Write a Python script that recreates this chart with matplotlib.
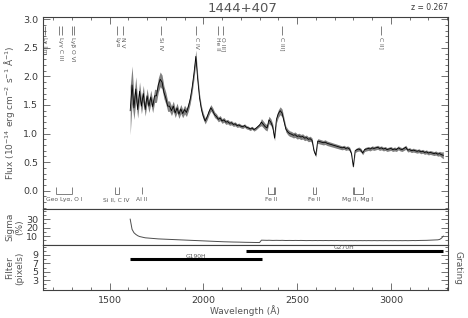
import numpy as np
import matplotlib
matplotlib.use('Agg')
import matplotlib.pyplot as plt
from matplotlib.ticker import MultipleLocator

plt.rcParams['font.family'] = ['Liberation Sans Narrow', 'DejaVu Sans']
plt.rcParams['text.color'] = '#3a3a3a'
plt.rcParams['xtick.color'] = '#3a3a3a'
plt.rcParams['ytick.color'] = '#3a3a3a'

# datos (paso de 10 A)
wave = np.arange(1610, 3290, 10)
flux = [
    1.40, 1.85, 1.45, 1.78, 1.42, 1.74, 1.48, 1.70, 1.42, 1.66,
    1.48, 1.64, 1.47, 1.66, 1.66, 1.85, 1.95, 1.90, 1.72, 1.62,
    1.48, 1.48, 1.40, 1.48, 1.36, 1.45, 1.34, 1.43, 1.35, 1.42,
    1.37, 1.47, 1.60, 1.80, 2.05, 2.35, 1.95, 1.62, 1.42, 1.30,
    1.22, 1.29, 1.38, 1.45, 1.40, 1.33, 1.30, 1.25, 1.27, 1.22,
    1.24, 1.20, 1.21, 1.18, 1.19, 1.16, 1.17, 1.14, 1.15, 1.13,
    1.12, 1.14, 1.11, 1.10, 1.08, 1.10, 1.07, 1.09, 1.12, 1.15,
    1.20, 1.16, 1.12, 1.10, 1.24, 1.20, 1.12, 0.92, 1.25, 1.35,
    1.40, 1.36, 1.22, 1.08, 1.03, 1.00, 0.99, 0.97, 0.98, 0.95,
    0.96, 0.94, 0.95, 0.92, 0.93, 0.90, 0.91, 0.88, 0.70, 0.62,
    0.87, 0.86, 0.85, 0.84, 0.85, 0.83, 0.82, 0.81, 0.80, 0.79,
    0.78, 0.77, 0.76, 0.75, 0.76, 0.74, 0.75, 0.73, 0.65, 0.42,
    0.70, 0.72, 0.73, 0.71, 0.66, 0.72, 0.73, 0.74, 0.73, 0.75,
    0.74, 0.75, 0.76, 0.74, 0.75, 0.73, 0.74, 0.72, 0.73, 0.74,
    0.72, 0.73, 0.72, 0.75, 0.73, 0.72, 0.74, 0.76, 0.71, 0.72,
    0.70, 0.71, 0.70, 0.69, 0.70, 0.68, 0.69, 0.67, 0.68, 0.66,
    0.67, 0.66, 0.65, 0.66, 0.64, 0.65, 0.63, 0.62,
]
sigma = [
    30, 18, 14, 12, 10.5, 9.5, 9, 8.5, 8, 7.8,
    7.5, 7.3, 7.1, 7, 6.8, 6.7, 6.6, 6.5, 6.4, 6.3,
    6.2, 6.1, 6, 5.9, 5.8, 5.7, 5.6, 5.5, 5.4, 5.3,
    5.2, 5.1, 5, 4.9, 4.8, 4.7, 4.6, 4.5, 4.4, 4.3,
    4.2, 4.1, 4, 3.9, 3.8, 3.7, 3.6, 3.5, 3.5, 3.4,
    3.3, 3.3, 3.2, 3.1, 3.1, 3, 3, 2.9, 2.9, 2.8,
    2.8, 2.7, 2.7, 2.6, 2.6, 2.5, 2.5, 2.5, 2.4, 2.4,
    5.2, 5.1, 5, 5, 5.1, 5, 4.9, 5, 5, 4.9,
    4.9, 5, 4.9, 4.8, 4.9, 4.9, 4.8, 4.8, 4.9, 4.8,
    4.8, 4.9, 4.8, 4.8, 4.7, 4.8, 4.8, 4.7, 4.8, 4.8,
    4.7, 4.8, 4.7, 4.7, 4.8, 4.7, 4.7, 4.8, 4.7, 4.7,
    4.8, 4.7, 4.7, 4.6, 4.7, 4.7, 4.6, 4.7, 4.7, 4.6,
    4.7, 4.6, 4.7, 4.7, 4.6, 4.7, 4.6, 4.7, 4.6, 4.6,
    4.7, 4.6, 4.6, 4.7, 4.6, 4.6, 4.7, 4.6, 4.6, 4.7,
    4.6, 4.7, 4.6, 4.6, 4.7, 4.6, 4.7, 4.7, 4.6, 4.7,
    4.7, 4.8, 4.7, 4.8, 4.8, 4.9, 4.9, 5, 5, 5.1,
    5.1, 5.2, 5.3, 5.4, 5.6, 6, 7.5, 10,
]

# lineas de emision (z = 0.267)
em_pos = [[1155], [1232, 1244], [1300, 1310], [1540], [1571], [1774],
          [1962], [2078], [2107], [2418], [2947]]
em_labels = ['Ly lim', 'Lyγ C III', 'Lyβ O VI', 'Lyα', 'N V', 'Si IV',
             'C IV', 'He II', 'O III]', 'C III]', 'C II]']

# absorciones galacticas
abs_pos = [[1216, 1302], [1526.7, 1548.2], [1670.8],
           [2344.2, 2374.5, 2382.8], [2586.7, 2600.2], [2796.4, 2803.5, 2852.1]]
abs_labels = ['Geo Lyα, O I', 'Si II, C IV', 'Al II', 'Fe II', 'Fe II', 'Mg II, Mg I']

# redes
grating_names = ['G190H', 'G270H']
grating_start = [1610, 2225]
grating_end = [2312, 3280]
grating_filter = [8, 10]

flux = np.array(flux)
sigma = np.array(sigma)

W, H = 468, 318
fig = plt.figure(figsize=(W / 100, H / 100), dpi=100)
x0, x1 = 43 / W, 448 / W
ax1 = fig.add_axes([x0, 1 - 209 / H, x1 - x0, 192 / H])
ax2 = fig.add_axes([x0, 1 - 245 / H, x1 - x0, 36 / H], sharex=ax1)
ax3 = fig.add_axes([x0, 1 - 290 / H, x1 - x0, 45 / H], sharex=ax1)

# 1. Espectro
ax1.fill_between(wave, flux * (1 - sigma / 100), flux * (1 + sigma / 100),
                 color='0.5', lw=0)
ax1.plot(wave, flux, color='k', lw=0.6)
ax1.set_ylim(-0.32, 3.04)
ax1.set_xlim(1145, 3305)

for pos, lab in zip(em_pos, em_labels):
    ax1.vlines(pos, 2.72, 2.88, color='0.3', lw=0.5)
    ax1.text(np.mean(pos), 2.69, lab, rotation=270, ha='center', va='top',
             fontsize=4.3, color='0.35')

for pos, lab in zip(abs_pos, abs_labels):
    ax1.vlines(pos, -0.05, 0.07, color='0.3', lw=0.5)
    if len(pos) > 1:
        ax1.hlines(-0.05, min(pos), max(pos), color='0.3', lw=0.5)
    ax1.text(np.mean([min(pos), max(pos)]), -0.16, lab, ha='center', va='center',
             fontsize=4.3, color='0.35')

# 2. Sigma
ax2.plot(wave, sigma, color='0.3', lw=0.7)
ax2.set_ylim(-0.5, 42)

# 3. Filtro / red
for name, s, e, f in zip(grating_names, grating_start, grating_end, grating_filter):
    ax3.hlines(f, s, e, color='k', lw=2.2)
    ax3.text((s + e) / 2, f + 0.7, name, ha='center', va='center', fontsize=4.3, color='0.35')
ax3.set_ylim(0.6, 11.4)

for ax in (ax1, ax2, ax3):
    for sp in ax.spines.values():
        sp.set_color('#404040')
        sp.set_linewidth(0.8)
    ax.tick_params(axis='y', which='both', direction='in', left=True, right=True,
                   labelsize=6.8, width=0.5)
    ax.tick_params(axis='y', which='major', length=5)
    ax.tick_params(axis='y', which='minor', length=2.5)
    ax.xaxis.set_major_locator(MultipleLocator(500))
    ax.xaxis.set_minor_locator(MultipleLocator(100))

ax1.yaxis.set_major_locator(MultipleLocator(0.5))
ax1.yaxis.set_minor_locator(MultipleLocator(0.1))
ax1.yaxis.set_major_formatter(matplotlib.ticker.FormatStrFormatter('%.1f'))
ax2.set_yticks([10, 20, 30])
ax2.yaxis.set_minor_locator(MultipleLocator(5))
ax3.set_yticks([3, 5, 7, 9])
ax3.yaxis.set_minor_locator(MultipleLocator(1))

ax1.tick_params(axis='x', which='both', direction='in', top=True, bottom=False,
                labelbottom=False, width=0.5)
ax1.tick_params(axis='x', which='major', length=5)
ax1.tick_params(axis='x', which='minor', length=2.5)
ax2.tick_params(axis='x', which='both', bottom=False, top=False, labelbottom=False)
ax3.tick_params(axis='x', which='both', direction='in', top=False, bottom=True,
                labelsize=6.8, width=0.5)
ax3.tick_params(axis='x', which='major', length=5, pad=4)
ax3.tick_params(axis='x', which='minor', length=2.5)

# textos
dv = ['DejaVu Sans']
fig.text(242 / W, 1 - 8 / H, '1444+407', ha='center', va='center', fontsize=9.5,
         family=dv, color='#555555')
fig.text(448 / W, 1 - 8 / H, 'z = 0.267', ha='right', va='center', fontsize=5.5, family=dv)
fig.text(10 / W, 1 - 113 / H, 'Flux (10$^{-14}$ erg cm$^{-2}$ s$^{-1}$ Å$^{-1}$)',
         rotation=90, ha='center', va='center', fontsize=6.5, family=dv, color='#555555')
fig.text(15 / W, 1 - 227 / H, 'Sigma\n(%)', rotation=90, ha='center', va='center',
         fontsize=6.5, family=dv, multialignment='center', color='#555555')
fig.text(15 / W, 1 - 268 / H, 'Filter\n(pixels)', rotation=90, ha='center', va='center',
         fontsize=6.5, family=dv, multialignment='center', color='#555555')
fig.text(458 / W, 1 - 268 / H, 'Grating', rotation=270, ha='center', va='center',
         fontsize=6.5, family=dv, color='#555555')
fig.text(245 / W, 1 - 311 / H, 'Wavelength (Å)', ha='center', va='center',
         fontsize=6.5, family=dv, color='#555555')

fig.savefig('out.png', dpi=100)
